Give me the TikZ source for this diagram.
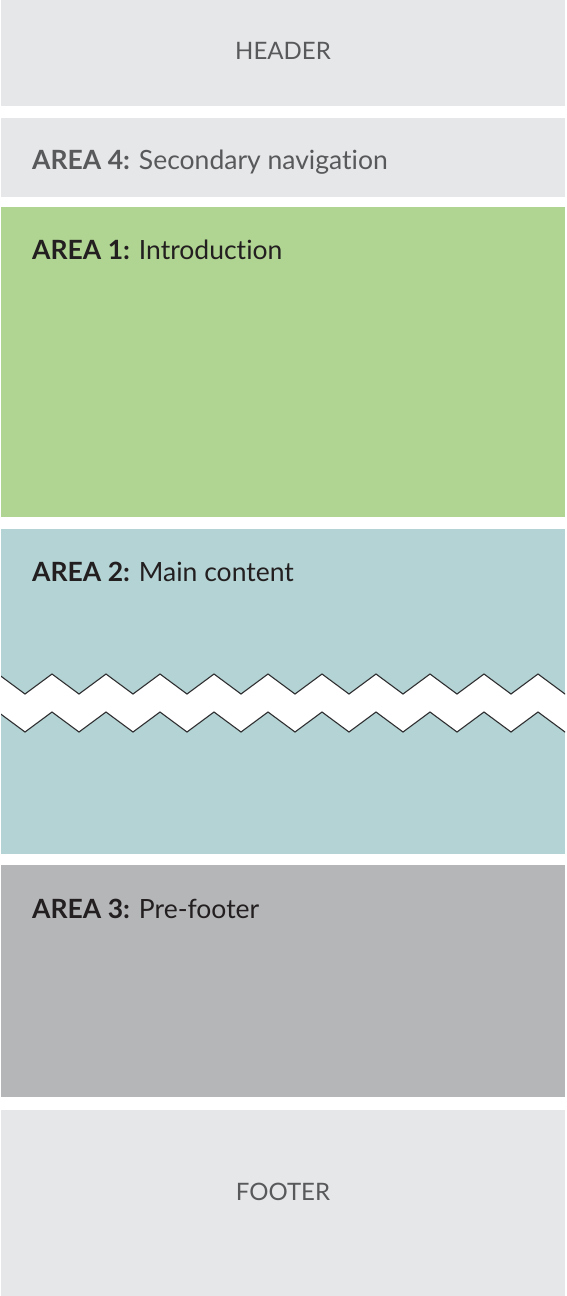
\documentclass[tikz,border=0pt]{standalone}
\usepackage{fontspec}
\setmainfont{Lato}[Ligatures=NoCommon]
\usepackage{tikz}
\usetikzlibrary{positioning}
\definecolor{paleGray}{HTML}{E6E7E8}
\definecolor{introGreen}{HTML}{B0D592}
\definecolor{mainTeal}{HTML}{B4D3D4}
\definecolor{preGray}{HTML}{B5B6B8}
\definecolor{txtGray}{HTML}{58595B}
\definecolor{ink}{HTML}{231F20}
\definecolor{zigInk}{HTML}{2E2E30}
\tikzset{panel/.style={rectangle,inner sep=0pt,outer sep=0pt,minimum width=564pt},
  lbl/.style={inner sep=0pt,font=\fontsize{26.5}{30}\selectfont},
  caplbl/.style={inner sep=0pt,font=\fontsize{24}{28}\selectfont},
  zig/.style={zigInk,line width=1.1pt,line join=miter}}
\newcommand{\areatag}[2]{\textbf{AREA #1:} #2}

\begin{document}
\begin{tikzpicture}[x=1pt,y=-1pt]
  \useasboundingbox (0,0) rectangle (566,1296);
  % page regions, top to bottom
  \foreach \n/\t/\b/\c in {header/0/106/paleGray, area4/118/197/paleGray, area1/207/517/introGreen,
      area2/529/854/mainTeal, area3/865/1097/preGray, footer/1110/1296/paleGray}
    \node[panel,fill=\c,minimum height={\b-\t}] (\n) at (283,{(\t+\b)/2}) {};
  % torn edge across the main content
  \begin{scope}
    \clip (1,529) rectangle (565,854);
    \fill[white] (-2,674) \foreach \k in {1,...,11}{ -- ++(27,20) -- ++(27,-20)}
      -- ++(0,38) \foreach \k in {1,...,11}{ -- ++(-27,20) -- ++(-27,-20)} -- cycle;
    \draw[zig] (-2,674) \foreach \k in {1,...,11}{ -- ++(27,20) -- ++(27,-20)};
    \draw[zig] (-2,712) \foreach \k in {1,...,11}{ -- ++(27,20) -- ++(27,-20)};
  \end{scope}
  % labels
  \node[caplbl,txtGray,anchor=base] (headerlbl) at (283,59) {HEADER};
  \node[lbl,txtGray,anchor=base west] (area4lbl) at (32,169) {\areatag{4}{Secondary navigation}};
  \node[lbl,ink,anchor=base west] (area1lbl) at (32,259) {\areatag{1}{Introduction}};
  \node[lbl,ink,anchor=base west] (area2lbl) at (32,581) {\areatag{2}{Main content}};
  \node[lbl,ink,anchor=base west] (area3lbl) at (32,918) {\areatag{3}{Pre-footer}};
  \node[caplbl,txtGray,anchor=base] (footerlbl) at (283,1200) {FOOTER};
\end{tikzpicture}
\end{document}
